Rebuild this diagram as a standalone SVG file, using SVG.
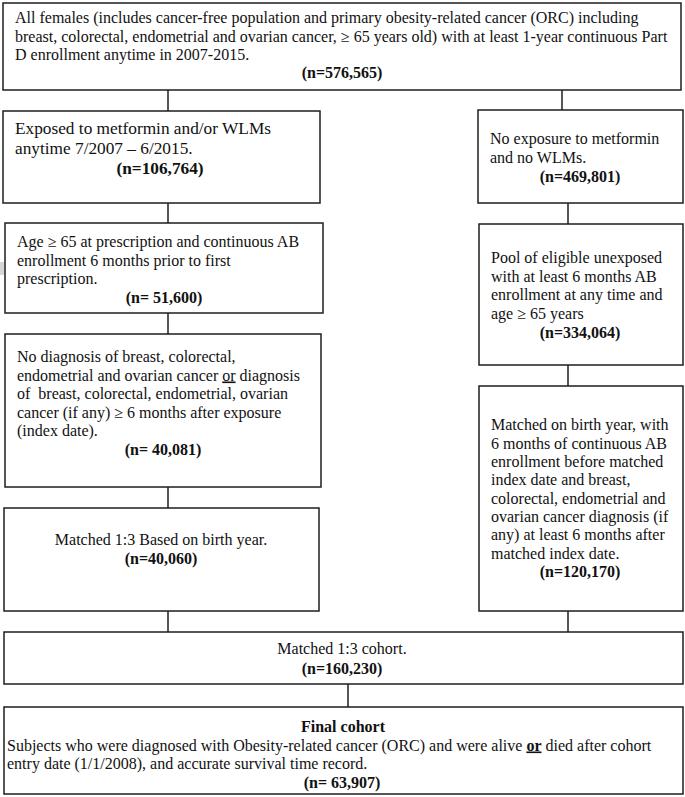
<svg xmlns="http://www.w3.org/2000/svg" width="685" height="797" viewBox="0 0 685 797">
<style>
.box{fill:#fff;stroke:#1e1e1e;stroke-width:1.5}
.con{stroke:#1e1e1e;stroke-width:1.5;fill:none}
text{font-family:"Liberation Serif","Times New Roman",serif;font-size:16px;fill:#111}
.b{font-weight:bold}
.c{text-anchor:middle}
.big{font-size:17.3px}
</style>
<rect width="685" height="797" fill="#fff"/>
<rect x="0" y="262" width="4" height="13" fill="#d6d6d6"/>
<g id="connectors">
<line class="con" x1="168" y1="90" x2="168" y2="111"/>
<line class="con" x1="562" y1="90" x2="562" y2="110"/>
<line class="con" x1="168" y1="203" x2="168" y2="223"/>
<line class="con" x1="568" y1="203" x2="568" y2="224"/>
<line class="con" x1="168" y1="313" x2="168" y2="334"/>
<line class="con" x1="568" y1="365" x2="568" y2="386"/>
<line class="con" x1="168" y1="487" x2="168" y2="508"/>
<line class="con" x1="168" y1="611" x2="168" y2="632"/>
<line class="con" x1="568" y1="611" x2="568" y2="632"/>
<line class="con" x1="348" y1="684" x2="348" y2="707"/>
</g>
<g id="all-females">
<rect class="box" x="3" y="3" width="678" height="87"/>
<text x="15" y="23">All females (includes cancer-free population and primary obesity-related cancer (ORC) including</text>
<text x="15" y="41.5">breast, colorectal, endometrial and ovarian cancer, ≥ 65 years old) with at least 1-year continuous Part</text>
<text x="15" y="60">D enrollment anytime in 2007-2015.</text>
<text class="b c" x="342" y="78">(n=576,565)</text>
</g>
<g id="exposed">
<rect class="box" x="3" y="111" width="317" height="92"/>
<text class="big" x="15" y="134">Exposed to metformin and/or WLMs</text>
<text class="big" x="15" y="154">anytime 7/2007 – 6/2015.</text>
<text class="big b c" x="160" y="174">(n=106,764)</text>
</g>
<g id="unexposed">
<rect class="box" x="478" y="110" width="205" height="93"/>
<text x="490" y="144">No exposure to metformin</text>
<text x="490" y="163">and no WLMs.</text>
<text class="b c" x="580" y="182">(n=469,801)</text>
</g>
<g id="age-65">
<rect class="box" x="5" y="223" width="318" height="90"/>
<text x="17" y="247">Age ≥ 65 at prescription and continuous AB</text>
<text x="17" y="265.5">enrollment 6 months prior to first</text>
<text x="17" y="284">prescription.</text>
<text class="b c" x="164" y="303">(n= 51,600)</text>
</g>
<g id="pool-unexposed">
<rect class="box" x="479" y="224" width="204" height="141"/>
<text x="491" y="263">Pool of eligible unexposed</text>
<text x="491" y="281.5">with at least 6 months AB</text>
<text x="491" y="300">enrollment at any time and</text>
<text x="491" y="318.5">age ≥ 65 years</text>
<text class="b c" x="580" y="338">(n=334,064)</text>
</g>
<g id="no-diagnosis">
<rect class="box" x="5" y="334" width="316" height="153"/>
<text x="17" y="362">No diagnosis of breast, colorectal,</text>
<text x="17" y="380.5">endometrial and ovarian cancer <tspan text-decoration="underline">or</tspan> diagnosis</text>
<text x="17" y="399">of&#160; breast, colorectal, endometrial, ovarian</text>
<text x="17" y="417.5">cancer (if any) ≥ 6 months after exposure</text>
<text x="17" y="436">(index date).</text>
<text class="b c" x="163" y="455">(n= 40,081)</text>
</g>
<g id="matched-exposed">
<rect class="box" x="4" y="508" width="315" height="103"/>
<text class="c" x="161" y="545">Matched 1:3 Based on birth year.</text>
<text class="b c" x="161" y="564">(n=40,060)</text>
</g>
<g id="matched-unexposed">
<rect class="box" x="479" y="386" width="204" height="225"/>
<text x="491" y="430">Matched on birth year, with</text>
<text x="491" y="448.5">6 months of continuous AB</text>
<text x="491" y="467">enrollment before matched</text>
<text x="491" y="485">index date and breast,</text>
<text x="491" y="503.5">colorectal, endometrial and</text>
<text x="491" y="522">ovarian cancer diagnosis (if</text>
<text x="491" y="540">any) at least 6 months after</text>
<text x="491" y="558.5">matched index date.</text>
<text class="b c" x="580" y="577">(n=120,170)</text>
</g>
<g id="matched-cohort">
<rect class="box" x="4" y="632" width="679" height="52"/>
<text class="c" x="342" y="654">Matched 1:3 cohort.</text>
<text class="b c" x="342" y="674">(n=160,230)</text>
</g>
<g id="final-cohort">
<rect class="box" x="4" y="707" width="679" height="87"/>
<text class="b c" x="343" y="732">Final cohort</text>
<text x="7" y="750.5">Subjects who were diagnosed with Obesity-related cancer (ORC) and were alive <tspan class="b" text-decoration="underline">or</tspan> died after cohort</text>
<text x="7" y="769">entry date (1/1/2008), and accurate survival time record.</text>
<text class="b c" x="342" y="787.5">(n= 63,907)</text>
</g>
</svg>
